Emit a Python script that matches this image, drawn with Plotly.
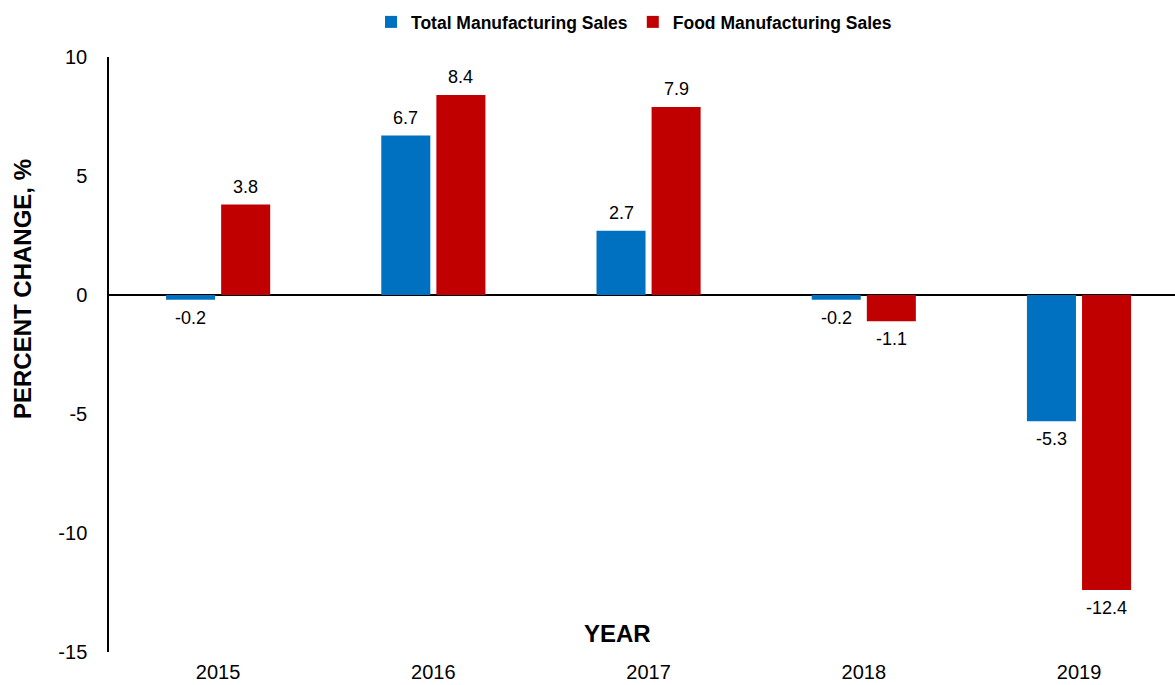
import plotly.graph_objects as go

years = ["2015", "2016", "2017", "2018", "2019"]
total_sales = [-0.2, 6.7, 2.7, -0.2, -5.3]
food_sales = [3.8, 8.4, 7.9, -1.1, -12.4]
y_ticks = [-15, -10, -5, 0, 5, 10]
y_tick_labels = ["-15", "-10", "-5", "0", "5", "10"]

BLUE = "#0070C0"
RED = "#C00000"
FONT = "Liberation Sans, Arial, sans-serif"

L, R, T, B = 109, 0, 57, 33
W, H = 1175, 685
plot_w = W - L - R
plot_h = H - T - B
x_range = [-0.507, 4.446]
cat_px = plot_w / (x_range[1] - x_range[0])
BARGAP = 0.488
half_offset = cat_px * (1 - BARGAP) / 4

fig = go.Figure()
series = [("Total Manufacturing Sales", total_sales, BLUE, -1),
          ("Food Manufacturing Sales", food_sales, RED, 1)]
annotations = []
for name, vals, col, side in series:
    fig.add_trace(go.Bar(
        x=years, y=vals, name=name,
        marker=dict(color=col, line=dict(width=0)),
        hoverinfo="x+y",
    ))
    for idx, v in enumerate(vals):
        annotations.append(dict(
            x=idx, y=v, xref="x", yref="y", text=f"{v:.1f}",
            showarrow=False, xanchor="center", yanchor="middle",
            xshift=side * half_offset, yshift=18 if v >= 0 else -18,
            font=dict(size=18, family=FONT, color="#000000"),
        ))

annotations += [
    dict(text="<b>YEAR</b>", xref="paper", yref="paper",
         x=(617 - L) / plot_w, y=(652 - 633) / plot_h,
         xanchor="center", yanchor="middle", showarrow=False,
         font=dict(size=24, family=FONT, color="#000000")),
    dict(text="<b>PERCENT CHANGE, %</b>", xref="paper", yref="paper",
         x=(22 - L) / plot_w, y=(652 - 289) / plot_h,
         xanchor="center", yanchor="middle", textangle=-90, showarrow=False,
         font=dict(size=24, family=FONT, color="#000000")),
]

fig.update_layout(
    width=W, height=H,
    margin=dict(l=L, r=R, t=T, b=B, autoexpand=False),
    paper_bgcolor="white", plot_bgcolor="white",
    font=dict(family=FONT, color="#000000"),
    barmode="group", bargap=BARGAP, bargroupgap=0.11,
    showlegend=True,
    legend=dict(
        orientation="h", x=0.4925, xanchor="center", y=1.0588, yanchor="middle",
        font=dict(size=17.5, family=FONT, color="#000000", weight="bold"),
        itemwidth=30, traceorder="normal",
    ),
    xaxis=dict(
        type="category", range=x_range, automargin=False,
        showline=False, showgrid=False, ticks="",
        tickfont=dict(size=20, family=FONT, color="#000000"),
        ticklabelstandoff=6,
    ),
    yaxis=dict(
        range=[-15, 10], tickvals=y_ticks, ticktext=y_tick_labels,
        automargin=False,
        showgrid=False, showline=True, linecolor="#000000", linewidth=1.5,
        zeroline=True, zerolinecolor="#000000", zerolinewidth=1.5,
        ticks="", ticklabelstandoff=16,
        tickfont=dict(size=20, family=FONT, color="#000000"),
    ),
    annotations=annotations,
)

fig.write_html(
    "out.html",
    config={"displayModeBar": False},
    post_script="document.body.style.margin='0';document.body.style.overflow='hidden';",
)
